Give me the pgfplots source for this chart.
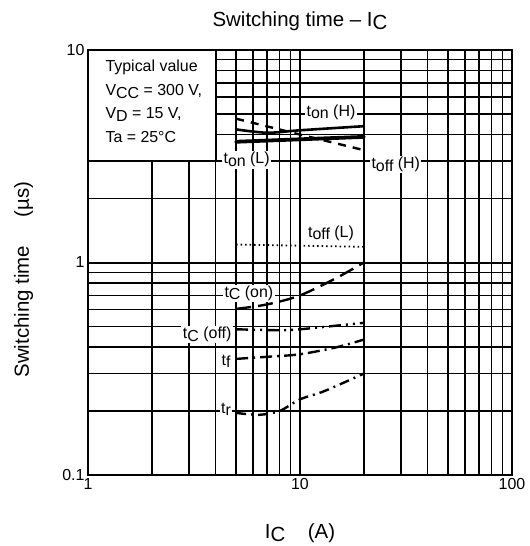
\documentclass[border=0pt]{standalone}
\usepackage{fontspec}
\setmainfont{Liberation Sans}
\setsansfont{Liberation Sans}
\usepackage{pgfplots}
\pgfplotsset{compat=1.18}
\newcommand{\lo}[1]{\raisebox{-0.28ex}{#1}}
\tikzset{lbl/.style={fill=white, inner sep=1.5bp, font=\fontsize{16}{18}\selectfont}}

\begin{document}
\begin{tikzpicture}
\begin{axis}[
  name=ax,
  width=424bp, height=425bp, scale only axis,
  xmode=log, ymode=log,
  xmin=1, xmax=100, ymin=0.1, ymax=10,
  xtick={1,10,100}, xticklabels={\mbox{1},\mbox{10},\mbox{100}},
  ytick={0.1,1,10}, yticklabels={\mbox{0.1},\mbox{1},\mbox{10}},
  minor xtick={2,3,4,5,6,7,8,9,20,30,40,50,60,70,80,90},
  minor ytick={0.2,0.3,0.4,0.5,0.6,0.7,0.8,0.9,2,3,4,5,6,7,8,9},
  major tick length=0pt, minor tick length=0pt,
  grid=both,
  major grid style={black, line width=2bp},
  minor grid style={black, line width=1.4bp},
  axis line style={line width=2.6bp},
  tick label style={font=\fontsize{16}{18}\selectfont},
  label style={font=\fontsize{20.5}{23}\selectfont},
  title style={font=\fontsize{20.5}{23}\selectfont, at={(axis description cs:0.5,1.054)}, anchor=center},
  title={Switching time -- I\lo{C}},
  xlabel={I\lo{C}\hspace{1.1em}(A)},
  ylabel={Switching time\hspace{1.4em}(µs)},
  xlabel style={at={(axis description cs:0.5,-0.136)}, anchor=center},
  ylabel style={at={(axis description cs:-0.152,0.46)}, anchor=center},
]
% condition box
\draw[black, fill=white, line width=2bp] (axis cs:1,3) rectangle (axis cs:4,10);
\node[anchor=west, xshift=14bp, font=\fontsize{16}{18}\selectfont] at (axis cs:1,8.27) {Typical value};
\node[anchor=west, xshift=14bp, font=\fontsize{16}{18}\selectfont] at (axis cs:1,6.38) {V\lo{CC} = 300 V,};
\node[anchor=west, xshift=14bp, font=\fontsize{16}{18}\selectfont] at (axis cs:1,4.97) {V\lo{D} = 15 V,};
\node[anchor=west, xshift=14bp, font=\fontsize{16}{18}\selectfont] at (axis cs:1,3.88) {Ta = 25°C};

% curve labels
\node[lbl] at (axis cs:14.0,5.08) {t\lo{on} (H)};
\node[lbl] at (axis cs:5.6,3.05) {t\lo{on} (L)};
\node[lbl] at (axis cs:28.3,2.89) {t\lo{off} (H)};
\node[lbl] at (axis cs:14.0,1.37) {t\lo{off} (L)};
\node[lbl] at (axis cs:5.74,0.715) {t\lo{C} (on)};
\node[lbl] at (axis cs:3.65,0.458) {t\lo{C} (off)};
\node[lbl] at (axis cs:4.48,0.342) {t\lo{f}};
\node[lbl] at (axis cs:4.48,0.203) {t\lo{r}};

% ton (H)
\addplot[black, line width=2.6bp, smooth] coordinates {(5,4.23) (7,4.08) (10,4.19) (20,4.38)};
% ton (L)
\addplot[black, line width=3.8bp, line cap=round] coordinates {(5,3.70) (10,3.80) (20,3.90)};
% toff (H)
\addplot[black, line width=2.4bp, dash pattern=on 8bp off 7bp] coordinates {(5,4.75) (10,4.0) (20,3.38)};
% toff (L)
\addplot[black, line width=1.8bp, dash pattern=on 1.5bp off 3bp] coordinates {(5,1.215) (20,1.185)};
% tc (on)
\addplot[black, line width=2.4bp, smooth, dash pattern=on 15bp off 7bp] coordinates {(5,0.605) (7,0.635) (10,0.70) (15,0.85) (20,1.0)};
% tc (off)
\addplot[black, line width=2.4bp, smooth, dash pattern=on 12bp off 5bp on 2bp off 5bp on 2bp off 5bp] coordinates {(5,0.485) (8,0.48) (10,0.485) (15,0.505) (20,0.52)};
% tf
\addplot[black, line width=2.4bp, smooth, dash pattern=on 12bp off 5bp on 2bp off 5bp] coordinates {(5,0.352) (7,0.36) (10,0.37) (15,0.40) (20,0.434)};
% tr
\addplot[black, line width=2.4bp, smooth, dash pattern=on 10bp off 5bp on 2bp off 5bp] coordinates {(5,0.196) (6.4,0.192) (8,0.20) (10,0.227) (13,0.248) (20,0.30)};
\end{axis}
\pgfresetboundingbox
\path[use as bounding box] ([shift={(-88bp,-71bp)}]ax.south west) rectangle ([shift={(18bp,50bp)}]ax.north east);
\end{tikzpicture}
\end{document}
